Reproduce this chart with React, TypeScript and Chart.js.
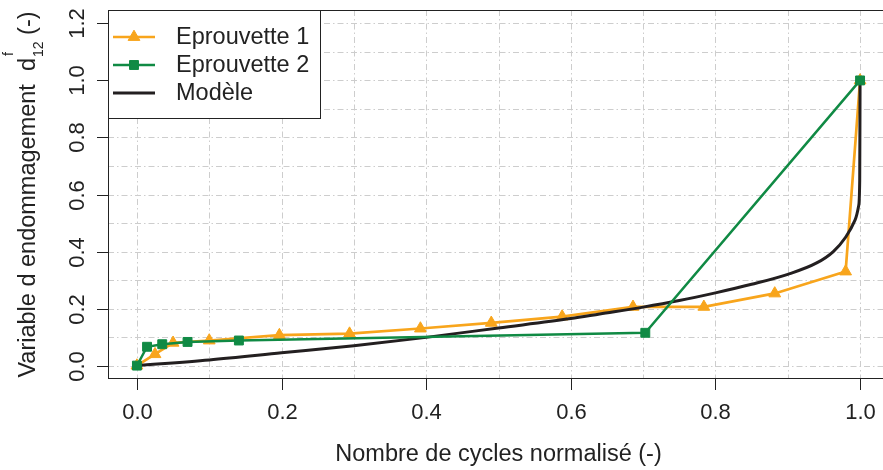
import React, { useEffect, useRef } from "react";
import { Chart, registerables } from "chart.js";

Chart.register(...registerables);

// ---------- data ----------
const ep1X = [0, 0.025, 0.05, 0.1, 0.197, 0.294, 0.392, 0.49, 0.588, 0.686, 0.784, 0.882, 0.98, 1.0];
const ep1Y = [0, 0.04, 0.08, 0.088, 0.107, 0.112, 0.13, 0.15, 0.172, 0.206, 0.206, 0.253, 0.33, 1.0];

const ep2X = [0, 0.014, 0.035, 0.07, 0.141, 0.703, 1.0];
const ep2Y = [0, 0.066, 0.075, 0.083, 0.088, 0.115, 1.0];

const modelX = [0, 0.1, 0.2, 0.3, 0.4, 0.5, 0.6, 0.64, 0.7, 0.75, 0.8, 0.85, 0.9, 0.94, 0.963, 0.98, 0.993, 0.998, 0.9995, 1.0];
const modelY = [0, 0.02, 0.045, 0.07, 0.099, 0.132, 0.165, 0.181, 0.205, 0.228, 0.255, 0.285, 0.32, 0.36, 0.4, 0.45, 0.51, 0.56, 0.65, 1.0];

const seriesLabels = ["Eprouvette 1", "Eprouvette 2", "Modèle"];

const xTicks = [0, 0.2, 0.4, 0.6, 0.8, 1.0];
const xTickLabels = ["0.0", "0.2", "0.4", "0.6", "0.8", "1.0"];
const yTicks = [0, 0.2, 0.4, 0.6, 0.8, 1.0, 1.2];
const yTickLabels = ["0.0", "0.2", "0.4", "0.6", "0.8", "1.0", "1.2"];
const xGrid = [0, 0.1, 0.2, 0.3, 0.4, 0.5, 0.6, 0.7, 0.8, 0.9, 1.0];
const yGrid = [0, 0.1, 0.2, 0.3, 0.4, 0.5, 0.6, 0.7, 0.8, 0.9, 1.0, 1.1, 1.2];

const xTitle = "Nombre de cycles normalisé (-)";
const yTitleMain = "Variable d endommagement  d";
const yTitleSup = "f";
const yTitleSub = "12";
const yTitleTail = " (-)";

// ---------- styles ----------
const ORANGE = "#F8A51C";
const GREEN = "#108A44";
const BLACK = "#231F20";
const FONT = "'Liberation Sans', Arial, Helvetica, sans-serif";

const toPts = (xs: number[], ys: number[]) => xs.map((x, i) => ({ x, y: ys[i] }));

function legendMarker(ctx: CanvasRenderingContext2D, style: string, r: number, x: number, y: number) {
  ctx.beginPath();
  if (style === "triangle") {
    let rad = 0;
    ctx.moveTo(x + Math.sin(rad) * r, y - Math.cos(rad) * r);
    rad += (2 * Math.PI) / 3;
    ctx.lineTo(x + Math.sin(rad) * r, y - Math.cos(rad) * r);
    rad += (2 * Math.PI) / 3;
    ctx.lineTo(x + Math.sin(rad) * r, y - Math.cos(rad) * r);
    ctx.closePath();
  } else {
    const s = Math.SQRT1_2 * r;
    ctx.rect(x - s, y - s, 2 * s, 2 * s);
  }
}

const decorPlugin = {
  id: "decor",
  beforeDatasetsDraw(chart: any) {
    const { ctx, chartArea: a, scales } = chart;
    const xs = scales.x, ys = scales.y;
    ctx.save();
    ctx.beginPath();
    ctx.rect(a.left, a.top, 883 - a.left, a.bottom - a.top);
    ctx.clip();
    ctx.strokeStyle = "#CDCDCD";
    ctx.lineWidth = 1;
    ctx.setLineDash([6, 3, 1.5, 3]);
    for (const v of xGrid) {
      const px = Math.round(xs.getPixelForValue(v)) + 0.5;
      ctx.beginPath();
      ctx.moveTo(px, a.top);
      ctx.lineTo(px, a.bottom);
      ctx.stroke();
    }
    for (const v of yGrid) {
      const py = Math.round(ys.getPixelForValue(v)) + 0.5;
      ctx.beginPath();
      ctx.moveTo(a.left, py);
      ctx.lineTo(883, py);
      ctx.stroke();
    }
    ctx.restore();
  },
  afterDatasetsDraw(chart: any) {
    const { ctx, chartArea: a, scales } = chart;
    const xs = scales.x, ys = scales.y;
    ctx.save();
    ctx.setLineDash([]);
    // box
    ctx.strokeStyle = "#222";
    ctx.lineWidth = 1;
    ctx.strokeRect(Math.round(a.left) + 0.5, Math.round(a.top) + 0.5, 883 - a.left + 5, Math.round(a.bottom - a.top) - 1);

    // x ticks + labels
    ctx.fillStyle = "#222";
    ctx.font = `22px ${FONT}`;
    ctx.textAlign = "center";
    ctx.textBaseline = "alphabetic";
    xTicks.forEach((v, i) => {
      const px = Math.round(xs.getPixelForValue(v)) + 0.5;
      ctx.beginPath();
      ctx.moveTo(px, a.bottom);
      ctx.lineTo(px, a.bottom + 11);
      ctx.stroke();
      ctx.fillText(xTickLabels[i], px, 419);
    });
    // y ticks + labels (rotated)
    yTicks.forEach((v, i) => {
      const py = Math.round(ys.getPixelForValue(v)) + 0.5;
      ctx.beginPath();
      ctx.moveTo(a.left - 11, py);
      ctx.lineTo(a.left, py);
      ctx.stroke();
      ctx.save();
      ctx.translate(84, py);
      ctx.rotate(-Math.PI / 2);
      ctx.fillText(yTickLabels[i], 0, 0);
      ctx.restore();
    });

    // x title
    ctx.font = `23.5px ${FONT}`;
    ctx.fillText(xTitle, (xs.getPixelForValue(0) + xs.getPixelForValue(1)) / 2, 461);

    // y title with sup/sub
    ctx.save();
    ctx.translate(35, (a.top + a.bottom) / 2);
    ctx.rotate(-Math.PI / 2);
    ctx.textAlign = "left";
    ctx.font = `23.5px ${FONT}`;
    const wMain = ctx.measureText(yTitleMain).width;
    const wTail = ctx.measureText(yTitleTail).width;
    ctx.font = `14px ${FONT}`;
    const wSup = ctx.measureText(yTitleSup).width;
    const wSub = ctx.measureText(yTitleSub).width;
    const total = wMain + Math.max(wSup, wSub) + 1 + wTail;
    let x = -total / 2;
    ctx.font = `23.5px ${FONT}`;
    ctx.fillText(yTitleMain, x, 0);
    x += wMain + 1;
    ctx.font = `14px ${FONT}`;
    ctx.fillText(yTitleSup, x + 1, -22);
    ctx.fillText(yTitleSub, x, 8);
    x += Math.max(wSup, wSub);
    ctx.font = `23.5px ${FONT}`;
    ctx.fillText(yTitleTail, x, 0);
    ctx.restore();

    // legend
    const lx = Math.round(a.left) + 0.5, ly = Math.round(a.top) + 0.5;
    const lw = 212, lh = 108;
    ctx.fillStyle = "#FFFFFF";
    ctx.fillRect(lx, ly, lw, lh);
    ctx.strokeStyle = "#222";
    ctx.lineWidth = 1;
    ctx.strokeRect(lx, ly, lw, lh);
    const rows = [37, 65, 93];
    chart.data.datasets.forEach((ds: any) => {
      const cy = rows[ds.legendIndex];
      ctx.strokeStyle = ds.borderColor;
      ctx.lineWidth = ds.borderWidth;
      ctx.beginPath();
      ctx.moveTo(113, cy);
      ctx.lineTo(155, cy);
      ctx.stroke();
      if (ds.pointRadius > 0) {
        legendMarker(ctx, ds.pointStyle, ds.pointRadius, 134, cy);
        ctx.fillStyle = ds.backgroundColor;
        ctx.strokeStyle = ds.borderColor;
        ctx.lineWidth = 1;
        ctx.fill();
        ctx.stroke();
      }
      ctx.fillStyle = "#222";
      ctx.font = `23.5px ${FONT}`;
      ctx.textAlign = "left";
      ctx.textBaseline = "middle";
      ctx.fillText(ds.label, 176, cy + 1);
    });
    ctx.restore();
  },
};

export default function App() {
  const ref = useRef<HTMLCanvasElement | null>(null);
  useEffect(() => {
    if (!ref.current) return;
    const chart = new Chart(ref.current, {
      type: "scatter",
      data: {
        datasets: [
          {
            label: seriesLabels[0],
            legendIndex: 0,
            data: toPts(ep1X, ep1Y),
            showLine: true,
            borderColor: ORANGE,
            backgroundColor: ORANGE,
            borderWidth: 2.7,
            pointStyle: "triangle",
            pointRadius: 6.8,
            pointBorderWidth: 1,
            order: 3,
          } as any,
          {
            label: seriesLabels[1],
            legendIndex: 1,
            data: toPts(ep2X, ep2Y),
            showLine: true,
            borderColor: GREEN,
            backgroundColor: GREEN,
            borderWidth: 2.5,
            pointStyle: "rect",
            pointRadius: 6.3,
            pointBorderWidth: 1,
            order: 1,
          } as any,
          {
            label: seriesLabels[2],
            legendIndex: 2,
            data: toPts(modelX, modelY),
            showLine: true,
            borderColor: BLACK,
            backgroundColor: BLACK,
            borderWidth: 3,
            pointRadius: 0,
            cubicInterpolationMode: "monotone",
            order: 2,
          } as any,
        ],
      },
      options: {
        animation: false,
        responsive: false,
        events: [],
        layout: { padding: { left: 108, top: 10, right: 0, bottom: 470 - 379 } },
        plugins: { legend: { display: false }, tooltip: { enabled: false } },
        scales: {
          x: {
            type: "linear",
            min: -0.04,
            max: 1.04,
            grid: { display: false },
            ticks: { display: false },
            border: { display: false },
            afterFit: (s: any) => { s.height = 0; },
          },
          y: {
            type: "linear",
            min: -0.047,
            max: 1.247,
            grid: { display: false },
            ticks: { display: false },
            border: { display: false },
            afterFit: (s: any) => { s.width = 0; },
          },
        },
      },
      plugins: [
        {
          id: "stretchArea",
          afterLayout(chart: any) {
            // make the plot region run past the right edge of the canvas, as in the reference
            const a = chart.chartArea;
            const xs = chart.scales.x;
            a.right = 889;
            a.width = a.right - a.left;
            xs.right = 889;
            xs.width = xs.right - xs.left;
            xs.configure();
          },
        },
        decorPlugin,
      ],
    });
    return () => chart.destroy();
  }, []);
  return (
    <div style={{ position: "absolute", left: 0, top: 0, width: 883, height: 470, background: "#fff" }}>
      <canvas ref={ref} width={883} height={470} style={{ display: "block", width: 883, height: 470 }} />
    </div>
  );
}
